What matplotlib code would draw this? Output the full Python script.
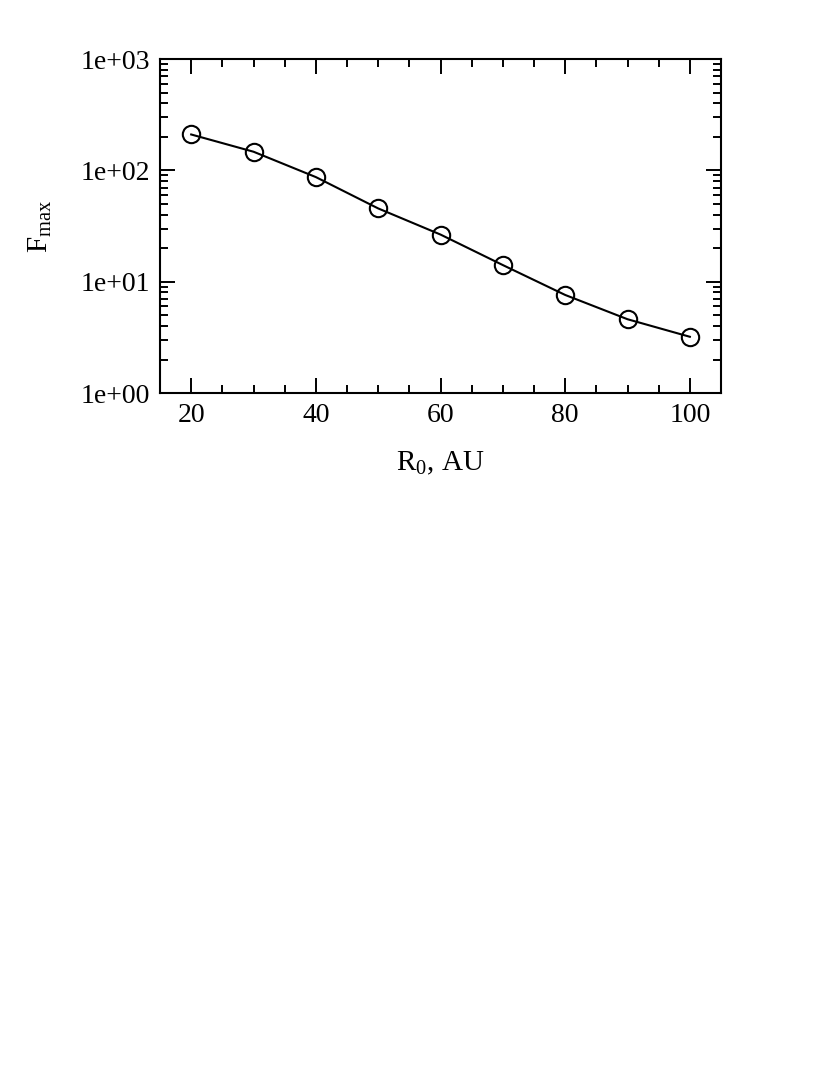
import matplotlib
matplotlib.use('Agg')
import matplotlib.pyplot as plt
from matplotlib.ticker import MultipleLocator, LogLocator, NullFormatter, FixedFormatter, FixedLocator

# data
r0 = [20, 30, 40, 50, 60, 70, 80, 90, 100]
fmax = [210, 147, 87, 45.5, 26.5, 14.1, 7.6, 4.6, 3.2]

y_ticks = [1, 10, 100, 1000]
y_labels = ['1e+00', '1e+01', '1e+02', '1e+03']

plt.rcParams['font.family'] = ['Liberation Serif', 'DejaVu Serif']
plt.rcParams['mathtext.fontset'] = 'custom'
plt.rcParams['mathtext.rm'] = 'Liberation Serif'
plt.rcParams['mathtext.it'] = 'Liberation Serif'

fig = plt.figure(figsize=(8.3, 10.75), dpi=100)
ax = fig.add_axes([0.1928, 0.6344, 0.6759, 0.3107])

ax.plot(r0, fmax, color='black', lw=1.5, marker='o', ms=12.5,
        mfc='none', mec='black', mew=1.5)

ax.set_yscale('log')
ax.set_xlim(15, 105)
ax.set_ylim(1, 1000)

ax.xaxis.set_major_locator(MultipleLocator(20))
ax.xaxis.set_minor_locator(MultipleLocator(5))
ax.yaxis.set_major_locator(FixedLocator(y_ticks))
ax.yaxis.set_major_formatter(FixedFormatter(y_labels))
ax.yaxis.set_minor_locator(LogLocator(base=10, subs=range(2, 10)))
ax.yaxis.set_minor_formatter(NullFormatter())

ax.tick_params(which='both', direction='in', top=True, right=True,
               labelsize=20, width=1.4)
ax.tick_params(which='major', length=11, pad=7)
ax.tick_params(which='minor', length=5.5)
for s in ax.spines.values():
    s.set_linewidth(1.5)

ax.set_xlabel(r'R$_0$, AU', fontsize=21, labelpad=16)
ax.set_ylabel(r'F$_{\rm max}$', fontsize=21, labelpad=19)

fig.savefig('out.png', dpi=100)
